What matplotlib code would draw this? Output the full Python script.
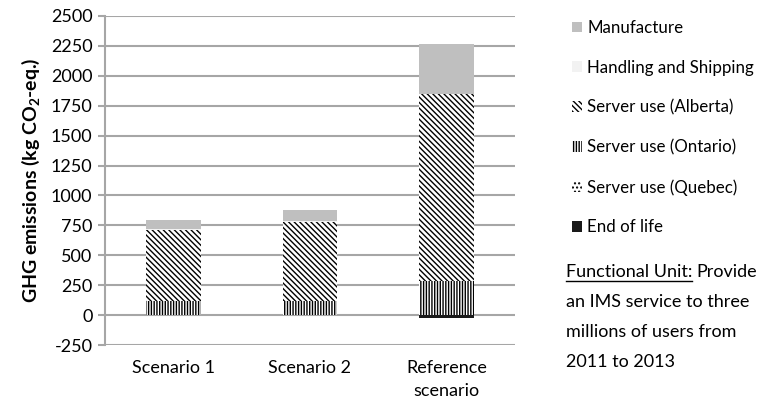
import matplotlib
matplotlib.use('Agg')
import matplotlib.pyplot as plt
import numpy as np
from matplotlib.patches import Patch
from matplotlib.lines import Line2D

plt.rcParams['font.family'] = ['Lato', 'DejaVu Sans']
plt.rcParams['mathtext.fontset'] = 'custom'
plt.rcParams['mathtext.rm'] = 'Lato'
plt.rcParams['mathtext.bf'] = 'Lato:bold'
plt.rcParams['hatch.linewidth'] = 1.0

# data (kg CO2-eq.)
scenarios = ['Scenario 1', 'Scenario 2', 'Reference\nscenario']
end_of_life = [-3, -3, -25]
server_quebec = [2, 2, 0]
server_ontario = [112, 115, 285]
server_alberta = [600, 665, 1560]
handling = [3, 3, 5]
manufacture = [78, 92, 420]
yticks = list(range(-250, 2501, 250))

fig = plt.figure(figsize=(7.57, 4.05), dpi=100)
ax = fig.add_axes([105/757, 1-345/405, 410/757, 329/405])

x = np.arange(len(scenarios))
w = 0.4
grid_col = '#a6a6a6'
fs = 13
h_alb = '\\\\\\\\\\\\'
h_ont = '||||||'
h_que = '....'

# stack from the bottom up
ax.bar(x, end_of_life, w, color='#1a1a1a', zorder=3)
bottom = np.zeros(len(x))
ax.bar(x, server_quebec, w, bottom=bottom, color='white', edgecolor='black', hatch=h_que, lw=0, zorder=3)
bottom += server_quebec
ax.bar(x, server_ontario, w, bottom=bottom, color='white', edgecolor='black', hatch=h_ont, lw=0, zorder=3)
bottom += server_ontario
ax.bar(x, server_alberta, w, bottom=bottom, color='white', edgecolor='black', hatch=h_alb, lw=0, zorder=3)
bottom += server_alberta
ax.bar(x, handling, w, bottom=bottom, color='#f2f2f2', zorder=3)
bottom += handling
ax.bar(x, manufacture, w, bottom=bottom, color='#bfbfbf', zorder=3)

ax.set_xlim(-0.5, 2.5)
ax.set_ylim(-250, 2500)
ax.set_yticks(yticks)
ax.set_yticklabels([str(v) for v in yticks])
ax.set_xticks(x)
ax.set_xticklabels(scenarios, linespacing=1.5)
ax.yaxis.grid(True, color=grid_col, lw=1.5, zorder=0)
for s in ['top', 'right', 'bottom']:
    ax.spines[s].set_visible(False)
ax.spines['left'].set_color(grid_col)
ax.spines['left'].set_linewidth(1.5)
ax.tick_params(axis='y', colors=grid_col, length=5, width=1.5, labelcolor='black', labelsize=fs, pad=4)
ax.tick_params(axis='x', length=0, labelsize=fs, pad=11)
ax.set_ylabel(r'GHG emissions (kg CO$_{\mathbf{2}}$-eq.)', fontsize=14, fontweight='bold', labelpad=6)

handles = [
    Patch(facecolor='#bfbfbf', edgecolor='none'),
    Patch(facecolor='#f2f2f2', edgecolor='none'),
    Patch(facecolor='white', edgecolor='black', hatch=h_alb, lw=0),
    Patch(facecolor='white', edgecolor='black', hatch=h_ont, lw=0),
    Patch(facecolor='white', edgecolor='black', hatch=h_que, lw=0),
    Patch(facecolor='#1a1a1a', edgecolor='none'),
]
labels = ['Manufacture', 'Handling and Shipping', 'Server use (Alberta)',
          'Server use (Ontario)', 'Server use (Quebec)', 'End of life']
fig.legend(handles, labels, loc='upper left', bbox_to_anchor=(572/757, 1-20/405),
           frameon=False, fontsize=12.2, handlelength=0.6, handleheight=0.6,
           handletextpad=0.3, labelspacing=1.4, borderaxespad=0, borderpad=0)

# functional unit note
fig.canvas.draw()
r = fig.canvas.get_renderer()
t1 = fig.text(566/757, 1-272/405, 'Functional Unit:', fontsize=fs, va='center')
bb = t1.get_window_extent(r)
fig.text((bb.x1 + 4)/757, 1-272/405, 'Provide', fontsize=fs, va='center')
fig.add_artist(Line2D([bb.x0/757, bb.x1/757], [(bb.y0 - 1)/405]*2, color='black', lw=1))
for i, line in enumerate(['an IMS service to three', 'millions of users from', '2011 to 2013']):
    fig.text(566/757, 1-(302 + 30*i)/405, line, fontsize=fs, va='center')

fig.savefig('out.png', dpi=100)
